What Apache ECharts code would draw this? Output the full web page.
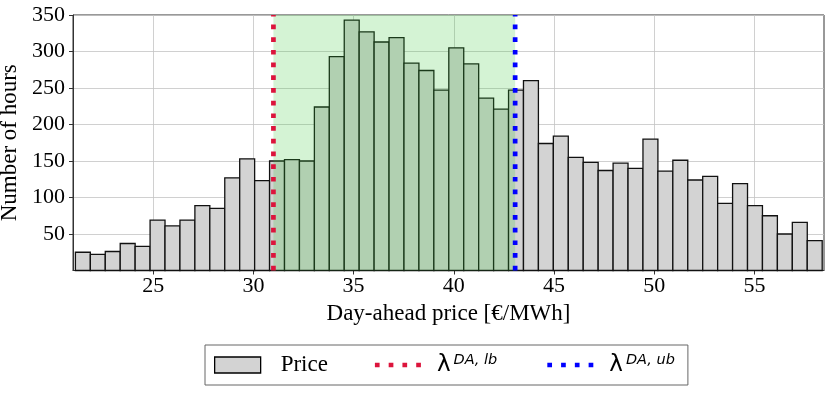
<!DOCTYPE html>
<html>
<head>
<meta charset="utf-8">
<script src="https://cdn.jsdelivr.net/npm/echarts@6/dist/echarts.min.js"></script>
<style>
html,body{margin:0;padding:0;background:#fff;}
#c{width:831px;height:393px;}
</style>
</head>
<body>
<div id="c"></div>
<script>
// Histogram counts (number of hours per price bin)
const counts = [25,22,26,37,33,69,61,69,89,85,127,153,123,150,152,150,224,293,343,327,313,319,284,274,247,305,283,236,221,247,260,174,184,155,148,137,147,140,180,136,151,124,129,92,119,89,75,50,66,41];
const binStart = 21.12;
const binWidth = 0.7452;
const lbValue = 31.0;
const ubValue = 43.06;
const xTicks = [25,30,35,40,45,50,55];
const yTicks = [50,100,150,200,250,300,350];

const histData = counts.map((c, i) => [binStart + i * binWidth, binStart + (i + 1) * binWidth, c]);

const serif = 'Liberation Serif';
const chart = echarts.init(document.getElementById('c'));

const dotted = [4.7, 8];
const dotIcon = 'path://M0,0h4.7v4.7h-4.7z M13.77,0h4.7v4.7h-4.7z M27.53,0h4.7v4.7h-4.7z M41.3,0h4.7v4.7h-4.7z';

function vline(color) {
  return function (params, api) {
    const a = api.coord([api.value(0), 0]);
    const b = api.coord([api.value(0), 350]);
    return {
      type: 'line',
      shape: {x1: a[0], y1: a[1], x2: b[0], y2: b[1]},
      style: {stroke: color, lineWidth: 4.7, lineDash: dotted, lineCap: 'butt'}
    };
  };
}

chart.setOption({
  animation: false,
  grid: {left: 73, right: 7, top: 15, bottom: 122.5, show: true, borderColor: '#333', borderWidth: 1, outerBoundsMode: 'none', containLabel: false},
  xAxis: {
    type: 'value', min: 21.0, max: 58.47,
    name: 'Day-ahead price [€/MWh]', nameLocation: 'middle', nameGap: 41,
    nameTextStyle: {fontFamily: serif, fontSize: 23, color: '#000', verticalAlign: 'middle'},
    axisLine: {show: true, onZero: false, lineStyle: {color: '#333', width: 1}},
    axisTick: {show: true, length: 4, customValues: xTicks, lineStyle: {color: '#333'}},
    axisLabel: {customValues: xTicks, fontFamily: serif, fontSize: 22, color: '#000', margin: 5},
    splitLine: {show: true, lineStyle: {color: '#c4c4c4', width: 0.8}}
  },
  yAxis: {
    type: 'value', min: 0, max: 350, interval: 50,
    name: 'Number of hours', nameLocation: 'middle', nameGap: 58,
    nameTextStyle: {fontFamily: serif, fontSize: 23, color: '#000', verticalAlign: 'middle'},
    axisLine: {show: true, lineStyle: {color: '#333', width: 1}},
    axisTick: {show: true, length: 4, customValues: yTicks, lineStyle: {color: '#333'}},
    axisLabel: {customValues: yTicks, fontFamily: serif, fontSize: 22, color: '#000', margin: 8},
    splitLine: {show: true, lineStyle: {color: '#c4c4c4', width: 0.8}}
  },
  legend: {
    left: 205, top: 345,
    orient: 'horizontal',
    itemWidth: 46, itemHeight: 16, itemGap: 47,
    padding: [8, 10, 8, 9],
    borderColor: '#666', borderWidth: 1, borderRadius: 0,
    symbolKeepAspect: true,
    data: [
      {name: 'Price', icon: 'rect', itemStyle: {color: '#d3d3d3', borderColor: '#000', borderWidth: 1.3}},
      {name: 'lb', icon: dotIcon, itemStyle: {color: '#dc143c', borderWidth: 0}},
      {name: 'ub', icon: dotIcon, itemStyle: {color: '#0000ff', borderWidth: 0}}
    ],
    formatter: function (name) {
      if (name === 'Price') return '{p|Price}';
      if (name === 'lb') return '{l|λ}{s|DA, lb}';
      return '{l|λ}{s|DA, ub}';
    },
    textStyle: {
      rich: {
        p: {fontFamily: serif, fontSize: 23, color: '#000', padding: [0, 0, 0, 15], lineHeight: 24},
        l: {fontFamily: 'DejaVu Sans', fontSize: 23, color: '#000', padding: [0, 0, 0, 11], verticalAlign: 'bottom', lineHeight: 24},
        s: {fontFamily: 'DejaVu Sans', fontStyle: 'italic', fontSize: 14.5, color: '#000', verticalAlign: 'top', lineHeight: 24, padding: [0, 3, 0, 3]}
      }
    }
  },
  series: [
    {
      name: 'Price', type: 'custom', z: 2,
      itemStyle: {color: '#d3d3d3', borderColor: '#000', borderWidth: 1.3},
      encode: {x: [0, 1], y: 2},
      data: histData,
      renderItem: function (params, api) {
        const p0 = api.coord([api.value(0), 0]);
        const p1 = api.coord([api.value(1), api.value(2)]);
        return {
          type: 'rect',
          shape: {x: p0[0], y: p1[1], width: p1[0] - p0[0], height: p0[1] - p1[1]},
          style: {fill: '#d3d3d3', stroke: '#111', lineWidth: 1.3}
        };
      }
    },
    {
      name: 'span', type: 'custom', z: 3, silent: true,
      encode: {x: [0, 1]},
      data: [[lbValue, ubValue]],
      renderItem: function (params, api) {
        const a = api.coord([api.value(0), 350]);
        const b = api.coord([api.value(1), 0]);
        return {
          type: 'rect',
          shape: {x: a[0], y: a[1], width: b[0] - a[0], height: b[1] - a[1]},
          style: {fill: 'rgba(60,200,60,0.22)'}
        };
      }
    },
    {
      name: 'lb', type: 'custom', z: 5, silent: true,
      itemStyle: {color: '#dc143c'},
      encode: {x: 0},
      data: [[lbValue]],
      renderItem: vline('#dc143c')
    },
    {
      name: 'ub', type: 'custom', z: 5, silent: true,
      itemStyle: {color: '#0000ff'},
      encode: {x: 0},
      data: [[ubValue]],
      renderItem: vline('#0000ff')
    }
  ]
});
</script>
</body>
</html>
